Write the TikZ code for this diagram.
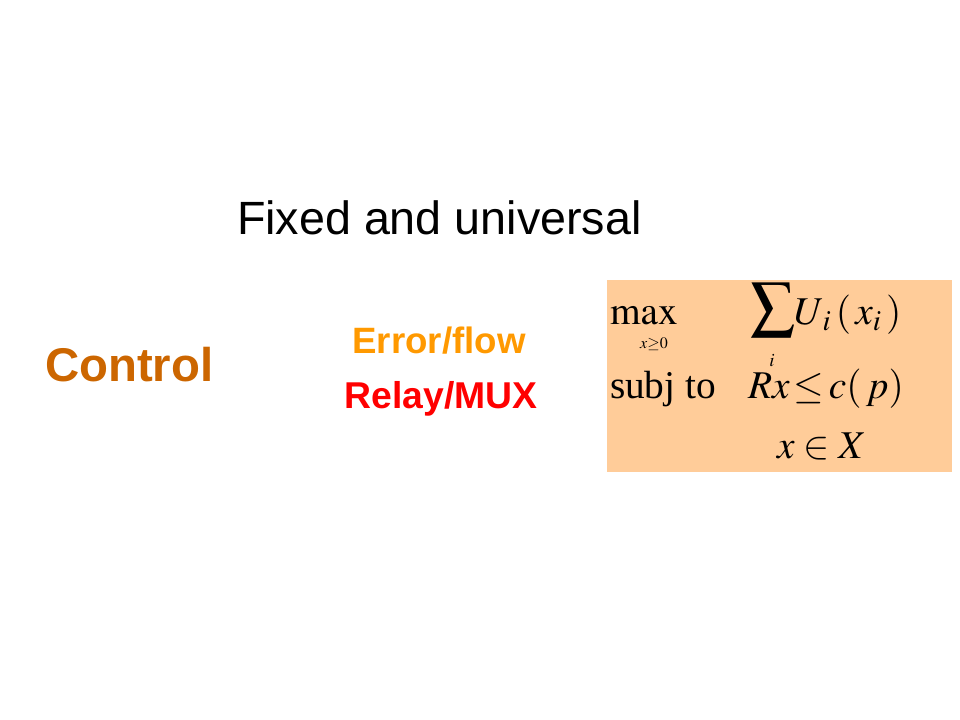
\documentclass[tikz,border=0pt]{standalone}
\usepackage{mathptmx}
\usepackage{fontspec}
\setmainfont{Liberation Serif}
\setsansfont{Liberation Sans}
\usetikzlibrary{positioning}
\definecolor{ctrlbrown}{HTML}{CC6600}
\definecolor{floworange}{HTML}{FF9900}
\definecolor{muxred}{HTML}{FF0000}
\definecolor{probfill}{HTML}{FFCC99}
\tikzset{every node/.style={inner sep=0pt, outer sep=0pt, anchor=base west},
  headline/.style={font=\sffamily\fontsize{35}{42}\selectfont},
  layer/.style={font=\sffamily\bfseries\fontsize{27.5}{33}\selectfont, anchor=base},
  mathpart/.style={font=\fontsize{29.5}{35}\selectfont},
  limpart/.style={font=\fontsize{12}{14}\selectfont, anchor=base}}

\begin{document}
\begin{tikzpicture}[x=0.75pt, y=-0.75pt]
            \useasboundingbox (0,0) rectangle (960,720);
            \node[headline] (title) at (237,235) {Fixed and universal};
            \node[font=\sffamily\bfseries\fontsize{35.5}{42}\selectfont, text=ctrlbrown] (ctrl) at (45,381) {Control};
            \node[layer, text=floworange] (flow) at (439,353) {Error/flow};
            \node[layer, font=\sffamily\bfseries\fontsize{28}{34}\selectfont, text=muxred] (mux) at (441,408) {Relay/MUX};
            
            % the problem
            \fill[probfill] (607,280) rectangle (952,472);
            \node[mathpart] (maxop) at (610,325) {$\max$};
            \node[limpart] (maxlim) at (654,348) {$x{\geq}0$};
            \node[font=\fontsize{33}{40}\selectfont] (sumop) at (750,321) {$\displaystyle\sum$};
            \node[limpart, font=\fontsize{14}{16}\selectfont] (sumlim) at (772,366) {$i$};
            \node[mathpart] (objfn) at (794,325) {$U_{\,i}\,(\,x_{i}\,)$};
            \node[mathpart] (subj) at (610,398) {subj to};
            \node[mathpart] (cap) at (748,398) {$Rx\,{\leq}\,c(\,p)$};
            \node[mathpart] (dom) at (777,458) {$x\in X$};
        \end{tikzpicture}
\end{document}
